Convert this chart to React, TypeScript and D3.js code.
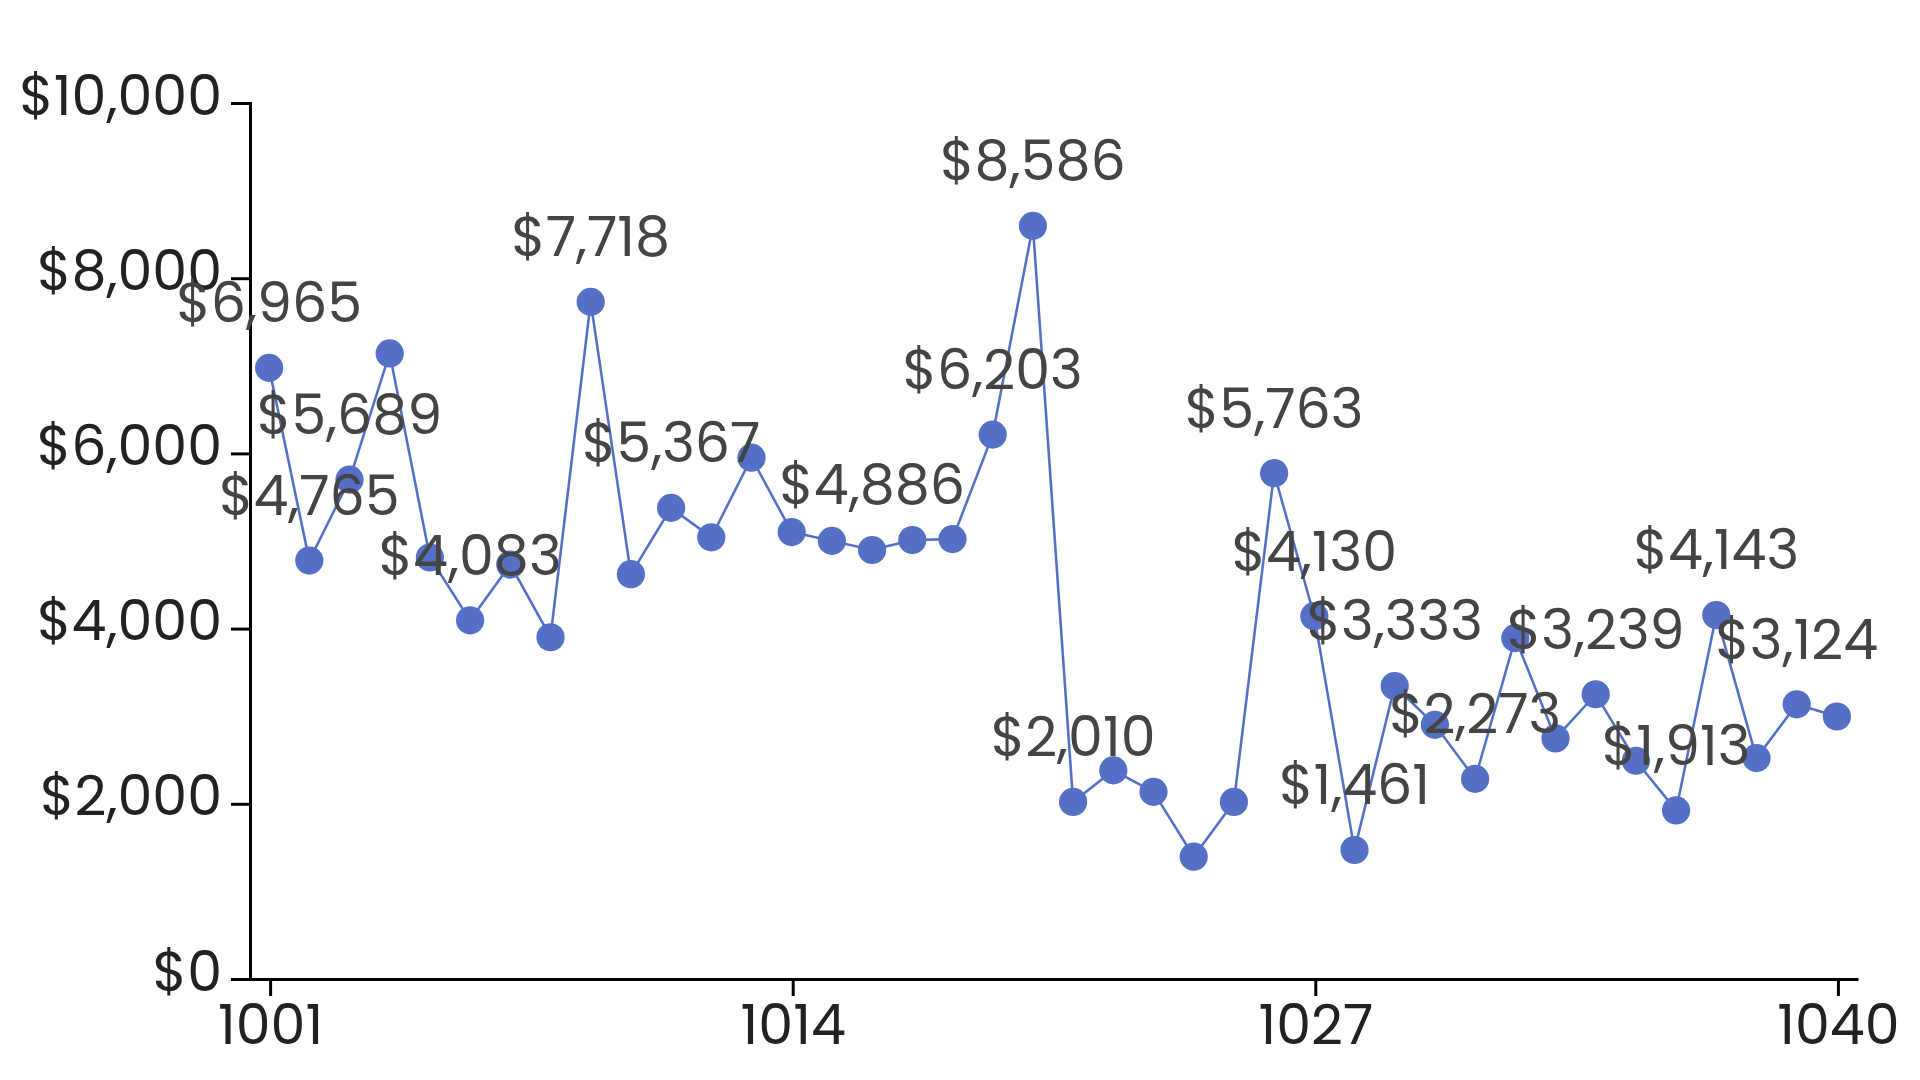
import { useRef, useEffect } from 'react';
import * as d3 from 'd3';

// Order ids along the x axis
const ids = d3.range(1001, 1041).map(String);

// Value per id
const values = [
  6965, 4765, 5689, 7130, 4800, 4083, 4720, 3890, 7718, 4610,
  5367, 5030, 5940, 5090, 4990, 4886, 5000, 5010, 6203, 8586,
  2010, 2370, 2125, 1385, 2010, 5763, 4130, 1461, 3333, 2890,
  2273, 3880, 2735, 3239, 2480, 1913, 4143, 2510, 3124, 2985,
];

// Ids whose value is written over the point
const labelled = [
  '1001', '1002', '1003', '1006', '1009', '1011', '1016', '1019', '1020',
  '1021', '1026', '1027', '1028', '1029', '1031', '1034', '1036', '1037', '1039',
];

const xTicks = ['1001', '1014', '1027', '1040'];
const yTicks = [0, 2000, 4000, 6000, 8000, 10000];

const W = 640;
const H = 360;
const MARGIN = { top: 34, right: 21, bottom: 34, left: 83 };
const FONT = 'Poppins, Inter, sans-serif';
const BLUE = '#5470c6';

export default function App() {
  const svgRef = useRef<SVGSVGElement>(null);

  useEffect(() => {
    document.body.style.margin = '0';
    const svg = d3.select(svgRef.current);
    svg.selectAll('*').remove();

    const x = d3
      .scalePoint<string>()
      .domain(ids)
      .range([MARGIN.left, W - MARGIN.right])
      .padding(0.5);
    const y = d3
      .scaleLinear()
      .domain([0, 10000])
      .range([H - MARGIN.bottom, MARGIN.top]);

    const money = d3.format('$,.0f');

    // x axis
    const gx = svg
      .append('g')
      .attr('transform', `translate(0,${H - MARGIN.bottom})`)
      .call(d3.axisBottom(x).tickValues(xTicks).tickSizeOuter(0));
    gx.selectAll('text').attr('font-size', 18.5).attr('font-family', FONT).attr('fill', '#222');

    // y axis
    const gy = svg
      .append('g')
      .attr('transform', `translate(${MARGIN.left},0)`)
      .call(d3.axisLeft(y).tickValues(yTicks).tickFormat((d) => money(+d)));
    gy.selectAll('text')
      .attr('font-size', 18.5)
      .attr('font-family', FONT)
      .attr('fill', '#222')
      .attr('dy', '0.2em');

    // line
    const line = d3
      .line<number>()
      .x((_, i) => x(ids[i])!)
      .y((d) => y(d));
    svg
      .append('path')
      .datum(values)
      .attr('d', line)
      .attr('fill', 'none')
      .attr('stroke', BLUE)
      .attr('stroke-width', 0.85);

    // points
    svg
      .append('g')
      .selectAll('circle')
      .data(values)
      .join('circle')
      .attr('cx', (_, i) => x(ids[i])!)
      .attr('cy', (d) => y(d))
      .attr('r', 4.7)
      .attr('fill', BLUE);

    // value labels
    svg
      .append('g')
      .selectAll('text')
      .data(values.map((v, i) => ({ id: ids[i], v })).filter((d) => labelled.includes(d.id)))
      .join('text')
      .attr('x', (d) => x(d.id)!)
      .attr('y', (d) => y(d.v) - 15.2)
      .attr('text-anchor', 'middle')
      .attr('font-size', 18.5)
      .attr('font-family', FONT)
      .attr('fill', '#444')
      .text((d) => money(d.v));
  }, []);

  return (
    <svg
      ref={svgRef}
      width={1920}
      height={1080}
      viewBox={`0 0 ${W} ${H}`}
      style={{ display: 'block', background: '#fff' }}
    />
  );
}
